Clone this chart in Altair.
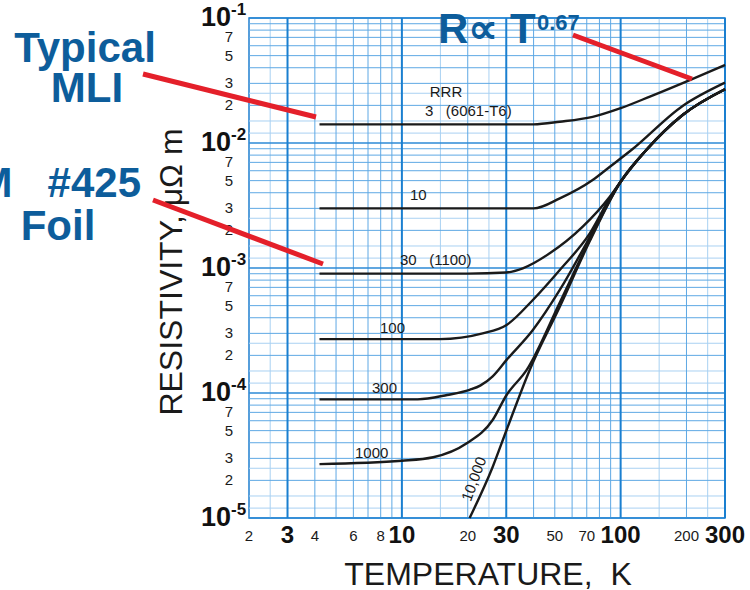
import altair as alt
import pandas as pd

# Electrical resistivity of aluminium (micro-ohm metre) against temperature (K),
# one curve per residual-resistance ratio (RRR).
t_rrr3 = [4.2, 10, 20, 40, 52.7, 74.5, 100, 136, 211, 300]
rho_rrr3 = [0.0141, 0.0141, 0.0141, 0.0141, 0.0148, 0.0162, 0.0190, 0.0235, 0.0323, 0.0421]

t_rrr10 = [4.2, 10, 20, 40, 52.7, 74.5, 89, 112, 192, 300]
rho_rrr10 = [0.00300, 0.00300, 0.00300, 0.00300, 0.00361, 0.00506, 0.00643, 0.00879, 0.0198, 0.0304]

t_rrr30 = [4.2, 10, 20, 30, 35.7, 47.4, 67.1, 89, 100, 131, 192, 300]
rho_rrr30 = [0.000901, 0.000901, 0.000901, 0.00092, 0.000994, 0.00131, 0.00214, 0.0037, 0.0049, 0.00879, 0.01675, 0.0269]

t_rrr100 = [4.2, 14.9, 23.4, 30.1, 39.7, 52.7, 72.4, 89, 100, 131, 192, 300]
rho_rrr100 = [0.000270, 0.000270, 0.000300, 0.000350, 0.000555, 0.000964, 0.00190, 0.0036, 0.0049, 0.00879, 0.01675, 0.0269]

t_rrr300 = [4.2, 11.8, 16.1, 20.4, 22.9, 26.0, 30.1, 39.7, 52.7, 72.4, 89, 100, 131, 192, 300]
rho_rrr300 = [8.9e-5, 8.9e-5, 9.64e-5, 1.06e-4, 1.15e-4, 1.36e-4, 1.84e-4, 3.19e-4, 6.67e-4, 0.00178, 0.0035, 0.0049, 0.00879, 0.01675, 0.0269]

t_rrr1000 = [4.2, 10, 13.9, 19.8, 26.0, 30.1, 37.2, 52.7, 72.4, 100, 131, 192, 300]
rho_rrr1000 = [2.70e-5, 2.87e-5, 3.06e-5, 3.96e-5, 6.08e-5, 9.64e-5, 1.53e-4, 5.3e-4, 0.00170, 0.0049, 0.00879, 0.01675, 0.0269]

t_rrr10000 = [20.4, 26.0, 30.1, 38.4, 52.7, 72.4, 100, 131, 192, 300]
rho_rrr10000 = [1.0e-5, 2.56e-5, 5.06e-5, 1.53e-4, 4.9e-4, 0.00165, 0.0049, 0.00879, 0.01675, 0.0269]

series = {
    "3": (t_rrr3, rho_rrr3),
    "10": (t_rrr10, rho_rrr10),
    "30": (t_rrr30, rho_rrr30),
    "100": (t_rrr100, rho_rrr100),
    "300": (t_rrr300, rho_rrr300),
    "1000": (t_rrr1000, rho_rrr1000),
    "10000": (t_rrr10000, rho_rrr10000),
}

# Graph-paper rulings
x_major = [3, 10, 30, 100, 300]
x_mid = [4, 5, 6, 7, 8, 9, 20, 40, 50, 60, 70, 80, 90, 200]
x_light = [2.5, 15, 25, 150, 250]
y_major = [1e-5, 1e-4, 1e-3, 1e-2, 1e-1]
y_mid_mantissa = [2, 3, 4, 5, 6, 7, 8, 9]
y_light_mantissa = [1.2, 1.5, 2.5]
decade_exponents = [-5, -4, -3, -2]

# Tick labels
x_small_labels = [2, 4, 6, 8, 20, 50, 70, 200]
x_bold_labels = [3, 10, 30, 100, 300]
y_decade_values = [1e-1, 1e-2, 1e-3, 1e-4, 1e-5]
y_decade_exps = ["-1", "-2", "-3", "-4", "-5"]
y_minor_mantissa = [7, 5, 3, 2]

FONT = "Liberation Sans"
BLUE = "#0d5d9b"
RED = "#e4202a"
SP = "\u00a0"

xs = alt.Scale(type="log", domain=[2, 300], nice=False)
ys = alt.Scale(type="log", domain=[1e-5, 1e-1], nice=False)

curve_rows = [
    {"T": t, "rho": r, "rrr": name}
    for name, (ts, rs) in series.items()
    for t, r in zip(ts, rs)
]
curves_df = pd.DataFrame(curve_rows)

y_mid = [m * 10.0 ** e for e in decade_exponents for m in y_mid_mantissa]
y_light = [m * 10.0 ** e for e in decade_exponents for m in y_light_mantissa]
y_minor_vals = [m * 10.0 ** e for e in decade_exponents for m in y_minor_mantissa]
y_minor_text = [str(m) for e in decade_exponents for m in y_minor_mantissa]


def vgrid(vals, color, width):
    return alt.Chart(pd.DataFrame({"t": vals})).mark_rule(
        color=color, strokeWidth=width
    ).encode(x=alt.X("t:Q", scale=xs, axis=None))


def hgrid(vals, color, width):
    return alt.Chart(pd.DataFrame({"r": vals})).mark_rule(
        color=color, strokeWidth=width
    ).encode(y=alt.Y("r:Q", scale=ys, axis=None))


one = pd.DataFrame({"k": [0]})


def label(text, x, y, size=15, weight="normal", color="#1a1a1a", align="left",
          baseline="alphabetic", angle=0):
    return alt.Chart(one).mark_text(
        text=text, font=FONT, fontSize=size, fontWeight=weight, color=color,
        align=align, baseline=baseline, angle=angle
    ).encode(x=alt.value(x), y=alt.value(y))


def pointer(x1, y1, x2, y2):
    return alt.Chart(one).mark_rule(color=RED, strokeWidth=5).encode(
        x=alt.value(x1), y=alt.value(y1), x2=alt.value(x2), y2=alt.value(y2)
    )


grid = [
    vgrid(x_light, "#a9d1f2", 1),
    hgrid(y_light, "#a9d1f2", 1),
    vgrid(x_mid, "#5ea8e4", 1),
    hgrid(y_mid, "#5ea8e4", 1),
    hgrid(y_major, "#2c8ad6", 1.5),
    vgrid(x_major, "#1a7fd0", 2),
]

curves = alt.Chart(curves_df).mark_line(
    color="#1a1a1a", strokeWidth=2.4, interpolate="monotone"
).encode(
    x=alt.X("T:Q", scale=xs, axis=None),
    y=alt.Y("rho:Q", scale=ys, axis=None),
    detail="rrr:N",
    order="T:Q",
)

x_small = alt.Chart(pd.DataFrame({"t": x_small_labels})).mark_text(
    font=FONT, fontSize=15, baseline="middle", color="#1a1a1a"
).encode(x=alt.X("t:Q", scale=xs, axis=None), y=alt.value(518), text="t:N")

x_bold = alt.Chart(pd.DataFrame({"t": x_bold_labels})).mark_text(
    font=FONT, fontSize=24, fontWeight="bold", baseline="middle", color="#111"
).encode(x=alt.X("t:Q", scale=xs, axis=None), y=alt.value(518), text="t:N")

ydec_df = pd.DataFrame({"v": y_decade_values, "e": y_decade_exps})
y_dec = alt.Chart(ydec_df).mark_text(
    font=FONT, fontSize=27, fontWeight="bold", align="right", baseline="middle",
    color="#111"
).encode(x=alt.value(-18), y=alt.Y("v:Q", scale=ys, axis=None), text=alt.value("10"))
y_exp = alt.Chart(ydec_df).mark_text(
    font=FONT, fontSize=17, fontWeight="bold", align="left", baseline="middle",
    color="#111", dy=-8
).encode(x=alt.value(-18), y=alt.Y("v:Q", scale=ys, axis=None), text="e:N")
y_min = alt.Chart(pd.DataFrame({"v": y_minor_vals, "s": y_minor_text})).mark_text(
    font=FONT, fontSize=15, align="center", baseline="middle", color="#1a1a1a"
).encode(x=alt.value(-20), y=alt.Y("v:Q", scale=ys, axis=None), text="s:N")

texts = [
    label("RESISTIVITY, \u03bc\u03a9 m", -67, 254, size=32, align="center", angle=270),
    label("TEMPERATURE," + SP * 2 + "K", 239, 567, size=32, align="center"),
    label("RRR", 197, 79, align="center"),
    label("3" + SP * 3 + "(6061-T6)", 176, 98),
    label("10", 161, 182),
    label("30" + SP * 3 + "(1100)", 151, 247),
    label("100", 131, 315),
    label("300", 123, 375),
    label("1000", 106, 440),
    label("10,000", 225, 461, align="center", baseline="middle", angle=290),
    label("Typical", -164, 44, size=42, weight="bold", color=BLUE, align="center"),
    label("MLI", -162, 84, size=42, weight="bold", color=BLUE, align="center"),
    label("3M" + SP * 3 + "#425", -108, 179, size=42, weight="bold", color=BLUE, align="right"),
    label("Foil", -191, 222, size=42, weight="bold", color=BLUE, align="center"),
    label("R\u221d T", 189, 25, size=42, weight="bold", color=BLUE),
    label("0.67", 288, 12, size=22, weight="bold", color=BLUE),
]

pointers = [
    pointer(-106, 56, 67, 99),
    pointer(-96, 182, 74, 246),
    pointer(324, 17, 443, 61),
]

chart = alt.layer(
    *grid, curves, x_small, x_bold, y_dec, y_exp, y_min, *texts, *pointers
).properties(
    width=476,
    height=500,
    autosize=alt.AutoSizeParams(type="none"),
    padding={"left": 249, "top": 18, "right": 25, "bottom": 72},
    background="white",
).configure_view(stroke="#1f7fcf", strokeWidth=1.5)

chart.save("out.html", embed_options={"renderer": "svg", "actions": False})
